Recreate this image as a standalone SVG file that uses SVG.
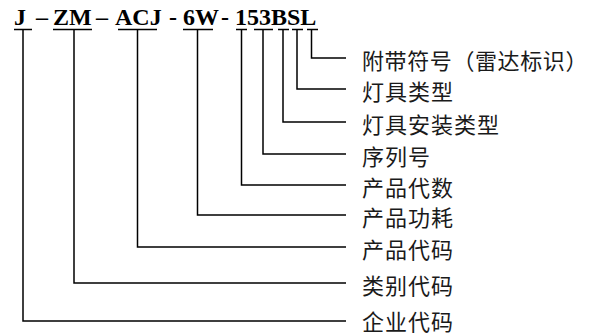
<svg xmlns="http://www.w3.org/2000/svg" width="593" height="336" viewBox="0 0 593 336">
<style>
.code{font-family:"Liberation Serif","Times New Roman",serif;font-weight:bold;font-size:24px;fill:#000}
.lbl{font-family:"Noto Sans CJK SC","Noto Sans CJK JP",sans-serif;font-size:22px;letter-spacing:1px;fill:#1a1a1a}
.ln{stroke:#000;stroke-width:1.5;fill:none}
</style>
<rect width="593" height="336" fill="#fff"/>
<g id="code">
<text class="code" y="25"><tspan x="14">J</tspan><tspan x="36">–</tspan><tspan x="53">ZM</tspan><tspan x="96">–</tspan><tspan x="115">ACJ</tspan><tspan x="169">-</tspan><tspan x="183">6W</tspan><tspan x="221">-</tspan><tspan x="235">153BSL</tspan></text>
</g>
<g id="connectors">
<path class="ln" d="M14 29.5H32M23 29.5V321H346"/>
<path class="ln" d="M53 29.5H92M74 29.5V283H346"/>
<path class="ln" d="M118 29.5H157M137.5 29.5V247H346"/>
<path class="ln" d="M183 29.5H213M197.5 29.5V215H346"/>
<path class="ln" d="M236 29.5H247M241.5 29.5V185H346"/>
<path class="ln" d="M254 29.5H273M263 29.5V154H346"/>
<path class="ln" d="M278 29.5H289M283 29.5V122H346"/>
<path class="ln" d="M292 29.5H303M297 29.5V89H346"/>
<path class="ln" d="M307 29.5H318M311.5 29.5V58H346"/>
</g>
<g id="label-L"><text class="lbl" x="362" y="69" style="letter-spacing:0.6px">附带符号（雷达标识）</text></g>
<g id="label-S"><text class="lbl" x="362" y="100">灯具类型</text></g>
<g id="label-B"><text class="lbl" x="362" y="133">灯具安装类型</text></g>
<g id="label-seq"><text class="lbl" x="362" y="165">序列号</text></g>
<g id="label-gen"><text class="lbl" x="362" y="196">产品代数</text></g>
<g id="label-power"><text class="lbl" x="362" y="226">产品功耗</text></g>
<g id="label-prod"><text class="lbl" x="362" y="258">产品代码</text></g>
<g id="label-cat"><text class="lbl" x="362" y="294">类别代码</text></g>
<g id="label-corp"><text class="lbl" x="362" y="330">企业代码</text></g>
</svg>
